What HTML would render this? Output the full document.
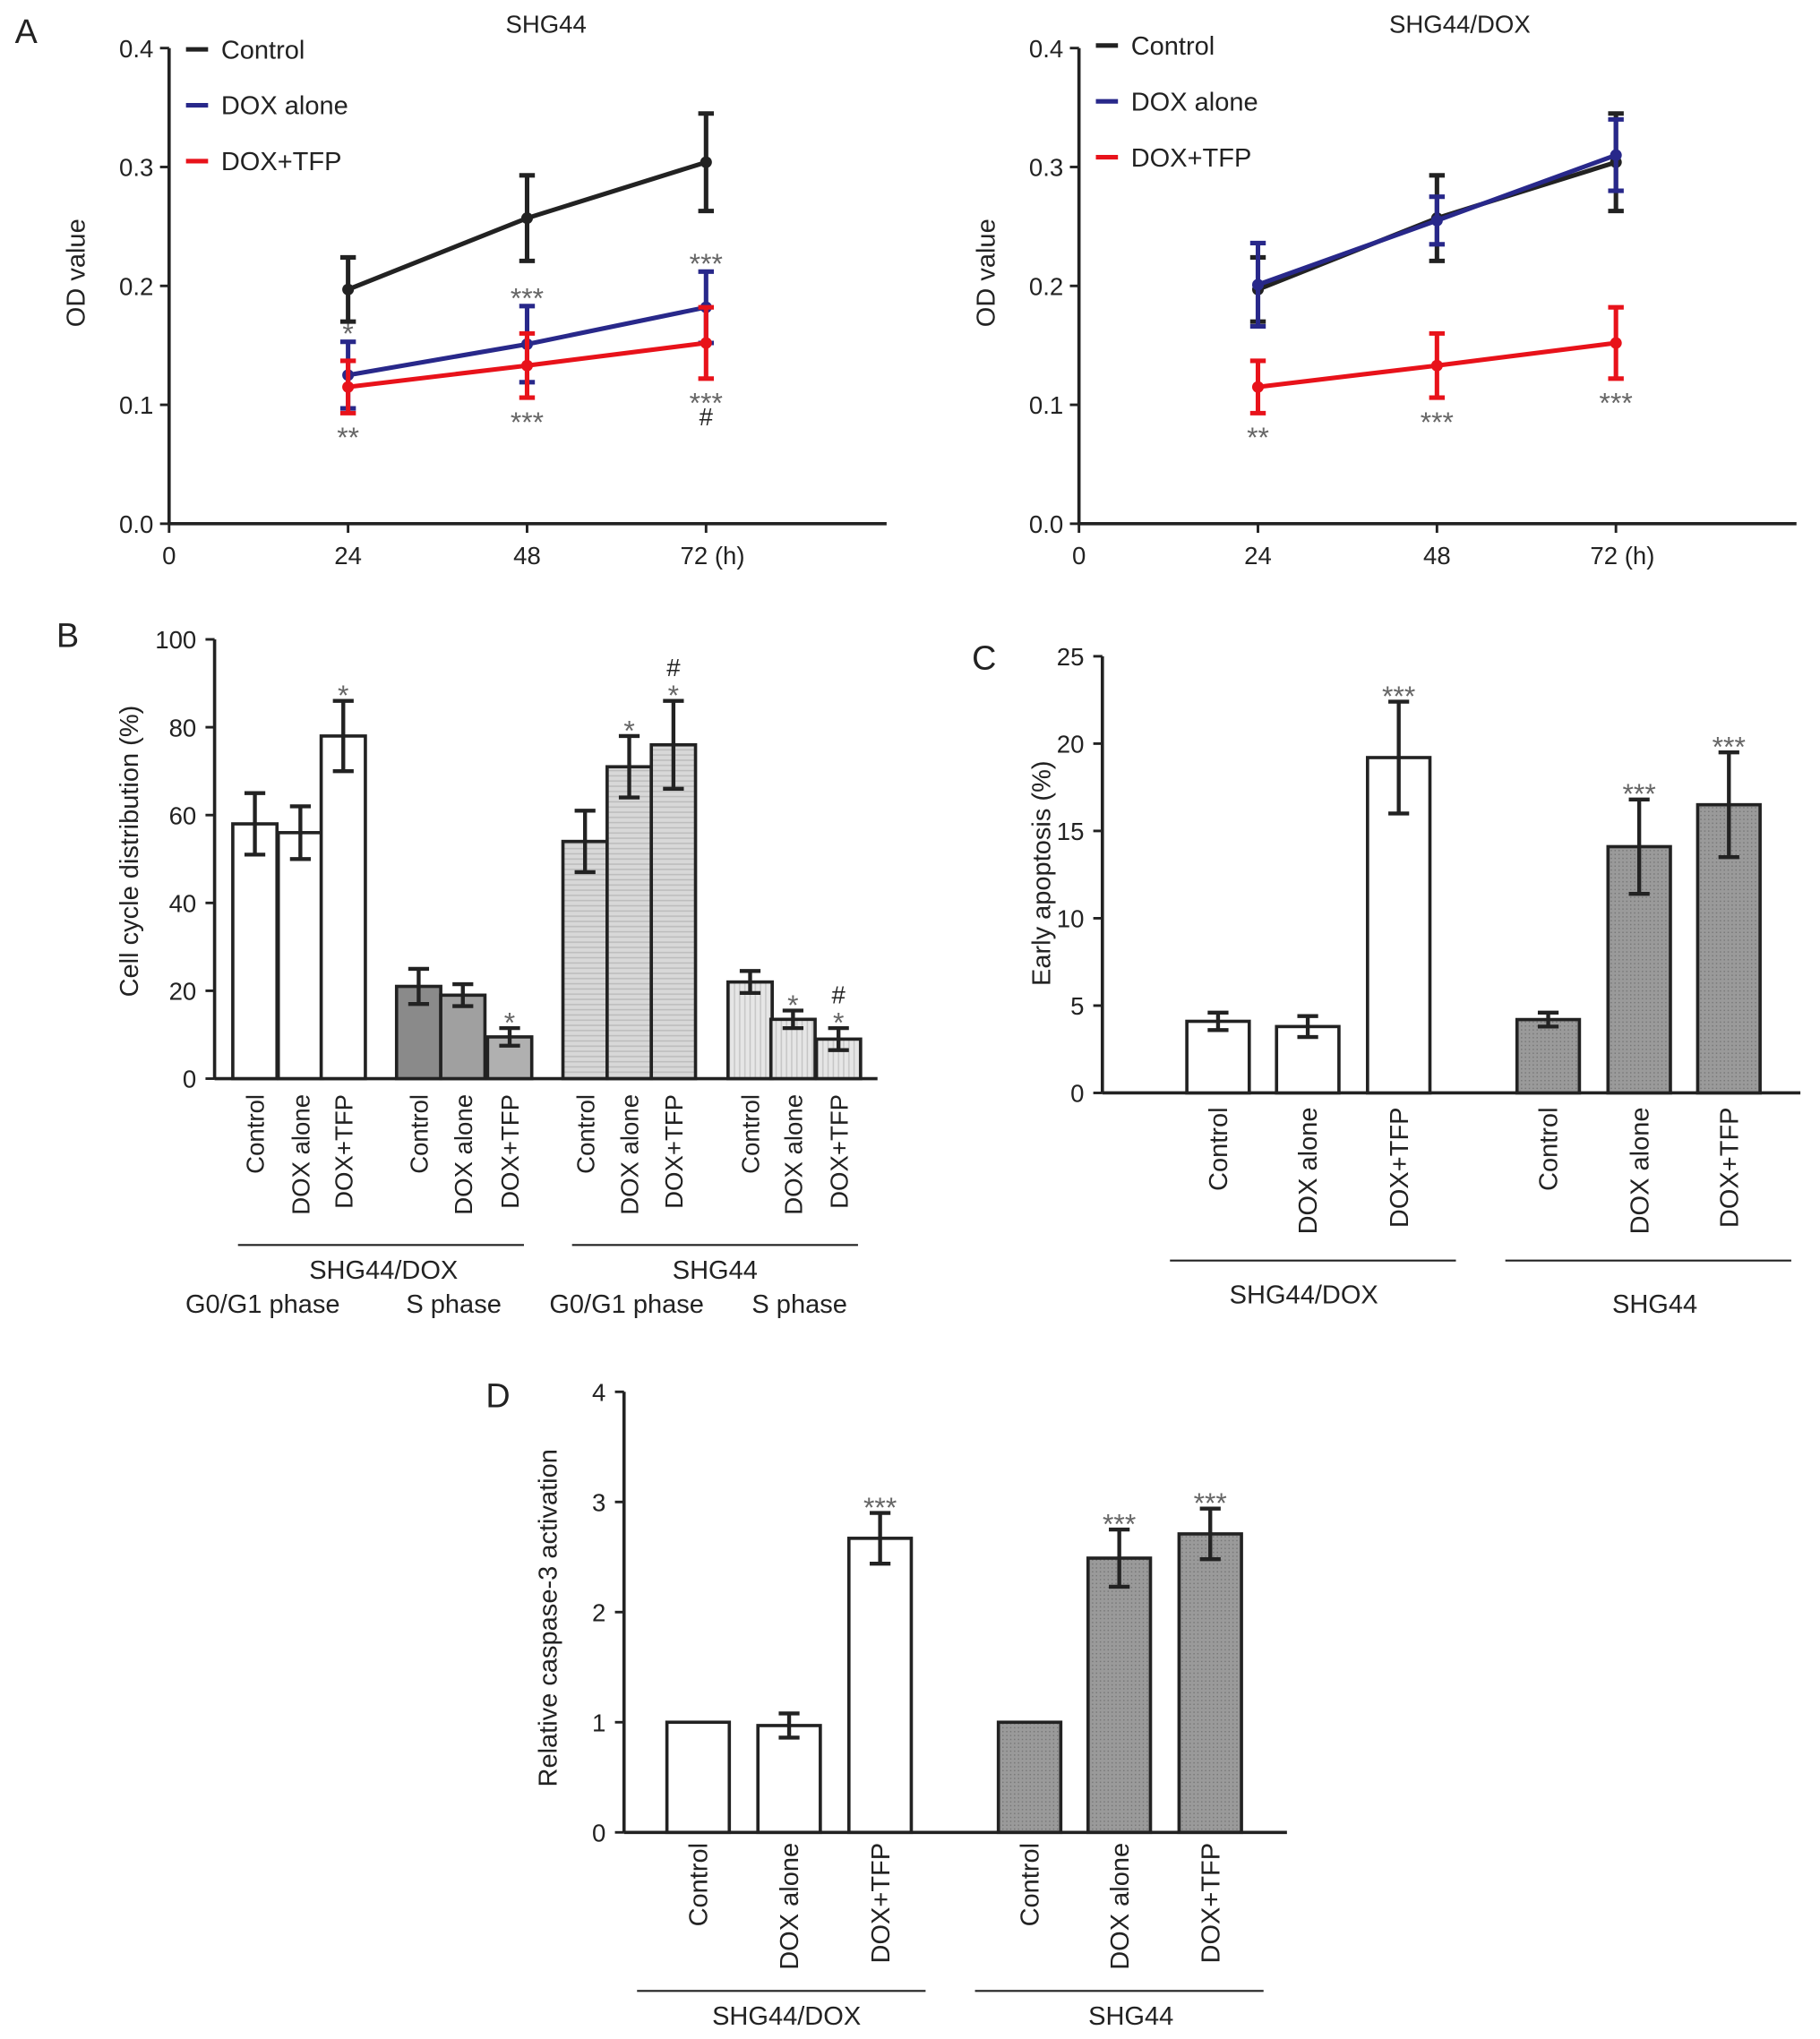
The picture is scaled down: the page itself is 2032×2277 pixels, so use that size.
<!DOCTYPE html>
<html><head><meta charset="utf-8"><style>
html,body{margin:0;padding:0;background:#fff}
svg{display:block}
text{font-family:"Liberation Sans",Arial,sans-serif;fill:#222}
</style></head><body>
<svg id="fig" width="2032" height="2277" viewBox="0 0 1400 1569" xmlns="http://www.w3.org/2000/svg">
<defs>
<pattern id="hl" width="6" height="4" patternUnits="userSpaceOnUse"><rect width="6" height="4" fill="#d8d8d8"/><line x1="0" y1="1" x2="6" y2="1" stroke="#bbb" stroke-width="1"/></pattern>
<pattern id="vl" width="4" height="6" patternUnits="userSpaceOnUse"><rect width="4" height="6" fill="#e6e6e6"/><line x1="1" y1="0" x2="1" y2="6" stroke="#c4c4c4" stroke-width="1"/></pattern>
<pattern id="dk" width="3" height="3" patternUnits="userSpaceOnUse"><rect width="3" height="3" fill="#9a9a9a"/><rect width="1" height="1" fill="#777"/></pattern>
</defs>
</svg>
<script>
// ---------- Panel A data ----------
const hours = [24, 48, 72];
const aLeftControl = [0.197, 0.257, 0.304];
const aLeftControlErr = [0.027, 0.036, 0.041];
const aLeftDox = [0.125, 0.151, 0.182];
const aLeftDoxErr = [0.028, 0.032, 0.030];
const aLeftTfp = [0.115, 0.133, 0.152];
const aLeftTfpErr = [0.022, 0.027, 0.030];
const aRightControl = [0.197, 0.257, 0.304];
const aRightControlErr = [0.027, 0.036, 0.041];
const aRightDox = [0.201, 0.255, 0.310];
const aRightDoxErr = [0.035, 0.020, 0.030];
const aRightTfp = [0.115, 0.133, 0.152];
const aRightTfpErr = [0.022, 0.027, 0.030];
const aYTicks = ["0.0", "0.1", "0.2", "0.3", "0.4"];
const aXTicks = ["0", "24", "48", "72 (h)"];
const aLeftDoxStars = ["*", "***", "***"];
const aLeftTfpStars = ["**", "***", "***"];
const aLeftTfpHash = ["", "", "#"];
const aRightTfpStars = ["**", "***", "***"];
// ---------- Panel B data ----------
const bCategories = ["Control", "DOX alone", "DOX+TFP"];
const bValues = [58, 56, 78, 21, 19, 9.5, 54, 71, 76, 22, 13.5, 9];
const bErrors = [7, 6, 8, 4, 2.5, 2, 7, 7, 10, 2.5, 2, 2.5];
const bStars = ["", "", "*", "", "", "*", "", "*", "*", "", "*", "*"];
const bHash = ["", "", "", "", "", "", "", "", "#", "", "", "#"];
const bYTicks = [0, 20, 40, 60, 80, 100];
// ---------- Panel C data ----------
const cValues = [4.1, 3.8, 19.2, 4.2, 14.1, 16.5];
const cErrors = [0.5, 0.6, 3.2, 0.4, 2.7, 3.0];
const cStars = ["", "", "***", "", "***", "***"];
const cYTicks = [0, 5, 10, 15, 20, 25];
// ---------- Panel D data ----------
const dValues = [1, 0.97, 2.67, 1, 2.49, 2.71];
const dErrors = [0, 0.11, 0.23, 0, 0.26, 0.23];
const dStars = ["", "", "***", "", "***", "***"];
const dYTicks = [0, 1, 2, 3, 4];

const NS = "http://www.w3.org/2000/svg";
const svg = document.getElementById("fig");
function mk(tag, attrs, parent, txt) {
  const e = document.createElementNS(NS, tag);
  for (const k in attrs) e.setAttribute(k, attrs[k]);
  if (txt !== undefined) e.textContent = txt;
  (parent || svg).appendChild(e);
  return e;
}
function txt(x, y, s, size, anchor, name, rot, color) {
  const t = mk("text", {x: x, y: y, "font-size": size, "text-anchor": anchor || "middle"}, svg, s);
  if (rot) t.setAttribute("transform", "rotate(" + rot + " " + x + " " + y + ")");
  if (color) t.setAttribute("style", "fill:" + color);
  
  
  return t;
}
function line(x1, y1, x2, y2, name, w, c) {
  const l = mk("line", {x1: x1, y1: y1, x2: x2, y2: y2, stroke: c || "#222", "stroke-width": w || 2});
  
  
  return l;
}
function errbar(x, y1, y2, cap, name, c, w) {
  line(x, y1, x, y2, name, w || 2.5, c);
  line(x - cap, y1, x + cap, y1, name + "-cap", w || 2.5, c);
  line(x - cap, y2, x + cap, y2, name + "-cap", w || 2.5, c);
}
const SIG = "#666";
// star text whose visual centre sits ~11px above baseline at size 22
function starAbove(x, top, s, name) { return txt(x, top + 3, s, 22, "middle", name, 0, SIG); }
function starBelow(x, bot, s, name) { return txt(x, bot + 26, s, 22, "middle", name, 0, SIG); }

// ---------- Panel A ----------
function panelA(x0, pre, title, ctrl, ctrlE, dox, doxE, tfp, tfpE, legY) {
  const y0 = 403, yTop = 37;
  const ys = v => y0 - v / 0.4 * (y0 - yTop);
  const xs = h => x0 + h / 24 * 137.7;
  line(x0, y0, x0 + 552, y0, pre + "-x-axis", 2.5);
  line(x0, y0, x0, yTop, pre + "-y-axis", 2.5);
  aYTicks.forEach((t, i) => {
    const y = ys(i * 0.1);
    line(x0 - 7, y, x0, y, pre + "-y-tick", 2);
    txt(x0 - 12, y + 7, t, 19, "end", pre + "-y-tick-label");
  });
  [0, 24, 48, 72].forEach((h, i) => {
    line(xs(h), y0, xs(h), y0 + 7, pre + "-x-tick", 2);
    txt(xs(h) + (i === 3 ? 5 : 0), y0 + 31, aXTicks[i], 19, "middle", pre + "-x-tick-label");
  });
  txt(x0 + 305 - (x0 > 500 ? 12 : 15), 25, title, 19, "middle", pre + "-title");
  txt(x0 - 65, 210, "OD value", 20, "middle", pre + "-y-axis-title", -90);
  const series = [[ctrl, ctrlE, "#222", "control"], [dox, doxE, "#28288a", "dox-alone"], [tfp, tfpE, "#e8121a", "dox-tfp"]];
  series.forEach(s => {
    const pts = hours.map((h, i) => xs(h) + "," + ys(s[0][i])).join(" ");
    const pl = mk("polyline", {points: pts, fill: "none", stroke: s[2], "stroke-width": 3.5});
    
    
    hours.forEach((h, i) => {
      errbar(xs(h), ys(s[0][i] + s[1][i]), ys(s[0][i] - s[1][i]), 6, pre + "-err-" + s[3], s[2], 3.5);
      const c = mk("circle", {cx: xs(h), cy: ys(s[0][i]), r: 4.5, fill: s[2]});
      
      
    });
  });
  const names = ["Control", "DOX alone", "DOX+TFP"];
  series.forEach((s, i) => {
    const y = legY + i * 43;
    line(x0 + 13, y, x0 + 30, y, pre + "-legend-marker", 3.5, s[2]);
    txt(x0 + 40, y + 7, names[i], 20, "start", pre + "-legend-entry");
  });
  return {xs: xs, ys: ys};
}
const L = panelA(130, "a-left", "SHG44", aLeftControl, aLeftControlErr, aLeftDox, aLeftDoxErr, aLeftTfp, aLeftTfpErr, 38);
const R = panelA(830, "a-right", "SHG44/DOX", aRightControl, aRightControlErr, aRightDox, aRightDoxErr, aRightTfp, aRightTfpErr, 35);
txt(20, 33, "A", 26, "middle", "panel-label-a");
hours.forEach((h, i) => {
  starAbove(L.xs(h), L.ys(aLeftDox[i] + aLeftDoxErr[i]) - 2, aLeftDoxStars[i], "a-left-sig-dox");
  starBelow(L.xs(h), L.ys(aLeftTfp[i] - aLeftTfpErr[i]), aLeftTfpStars[i], "a-left-sig-tfp");
  if (aLeftTfpHash[i]) txt(L.xs(h), L.ys(aLeftTfp[i] - aLeftTfpErr[i]) + 36, aLeftTfpHash[i], 19, "middle", "a-left-hash");
  starBelow(R.xs(h), R.ys(aRightTfp[i] - aRightTfpErr[i]), aRightTfpStars[i], "a-right-sig-tfp");
});

// ---------- bar panels helper ----------
function barAxes(pre, ax, y0, yTop, max, ticks, xEnd, fs) {
  const ys = v => y0 - v / max * (y0 - yTop);
  line(ax, y0, xEnd, y0, pre + "-x-axis", 2.5);
  line(ax, y0, ax, yTop, pre + "-y-axis", 2.5);
  ticks.forEach(t => {
    line(ax - 7, ys(t), ax, ys(t), pre + "-y-tick", 2);
    txt(ax - 14, ys(t) + 7, String(t), fs, "end", pre + "-y-tick-label");
  });
  return ys;
}
function bars(pre, centers, vals, errs, fills, ys, w, y0) {
  centers.forEach((cx, i) => {
    const r = mk("rect", {x: cx - w / 2, y: ys(vals[i]), width: w, height: y0 - ys(vals[i]), fill: fills[i], stroke: "#222", "stroke-width": 2.5});
    
    
    if (errs[i] > 0) errbar(cx, ys(vals[i] + errs[i]), ys(vals[i] - errs[i]), 8, pre + "-error-bar", "#222", 3);
  });
}
function catLabels(pre, centers, yEnd, fs) {
  centers.forEach((cx, i) => txt(cx + 7, yEnd, bCategories[i % 3], fs, "end", pre + "-category-label", -90));
}

// ---------- Panel B ----------
const bCenters = [196, 231, 264, 322, 356, 392, 450, 484, 518, 577, 610, 645];
const bFills = ["#fff", "#fff", "#fff", "#8a8a8a", "#a0a0a0", "#b0b0b0", "url(#hl)", "url(#hl)", "url(#hl)", "url(#vl)", "url(#vl)", "url(#vl)"];
const bys = barAxes("b", 165, 830, 492, 100, bYTicks, 675, 19);
bars("b", bCenters, bValues, bErrors, bFills, bys, 34, 830);
bCenters.forEach((cx, i) => {
  const top = bys(bValues[i] + bErrors[i]);
  if (bStars[i]) starAbove(cx, top, bStars[i], "b-sig");
  if (bHash[i]) txt(cx, top - 19, bHash[i], 19, "middle", "b-hash");
});
catLabels("b", bCenters, 842, 19);
line(183, 958, 403, 958, "b-group-line", 1.5);
line(440, 958, 660, 958, "b-group-line", 1.5);
txt(295, 984, "SHG44/DOX", 20, "middle", "b-group-label");
txt(550, 984, "SHG44", 20, "middle", "b-group-label");
txt(202, 1010, "G0/G1 phase", 20, "middle", "b-phase-label");
txt(349, 1010, "S phase", 20, "middle", "b-phase-label");
txt(482, 1010, "G0/G1 phase", 20, "middle", "b-phase-label");
txt(615, 1010, "S phase", 20, "middle", "b-phase-label");
txt(106, 655, "Cell cycle distribution (%)", 20, "middle", "b-y-axis-title", -90);
txt(52, 498, "B", 26, "middle", "panel-label-b");

// ---------- Panel C ----------
const cCenters = [937, 1006, 1076, 1191, 1261, 1330];
const cFills = ["#fff", "#fff", "#fff", "url(#dk)", "url(#dk)", "url(#dk)"];
const cys = barAxes("c", 848, 841, 505, 25, cYTicks, 1385, 19);
bars("c", cCenters, cValues, cErrors, cFills, cys, 48, 841);
cCenters.forEach((cx, i) => { if (cStars[i]) starAbove(cx, cys(cValues[i] + cErrors[i]), cStars[i], "c-sig"); });
catLabels("c", cCenters, 852, 20);
line(900, 970, 1120, 970, "c-group-line", 1.5);
line(1158, 970, 1378, 970, "c-group-line", 1.5);
txt(1003, 1003, "SHG44/DOX", 20, "middle", "c-group-label");
txt(1273, 1010, "SHG44", 20, "middle", "c-group-label");
txt(808, 672, "Early apoptosis (%)", 20, "middle", "c-y-axis-title", -90);
txt(757, 515, "C", 26, "middle", "panel-label-c");

// ---------- Panel D ----------
const dCenters = [537, 607, 677, 792, 861, 931];
const dys = barAxes("d", 480, 1410, 1071, 4, dYTicks, 990, 19);
bars("d", dCenters, dValues, dErrors, cFills, dys, 48, 1410);
dCenters.forEach((cx, i) => { if (dStars[i]) starAbove(cx, dys(dValues[i] + dErrors[i]), dStars[i], "d-sig"); });
catLabels("d", dCenters, 1418, 20);
line(490, 1532, 712, 1532, "d-group-line", 1.5);
line(750, 1532, 972, 1532, "d-group-line", 1.5);
txt(605, 1558, "SHG44/DOX", 20, "middle", "d-group-label");
txt(870, 1558, "SHG44", 20, "middle", "d-group-label");
txt(428, 1245, "Relative caspase-3 activation", 20, "middle", "d-y-axis-title", -90);
txt(383, 1083, "D", 26, "middle", "panel-label-d");
</script>
</body></html>
